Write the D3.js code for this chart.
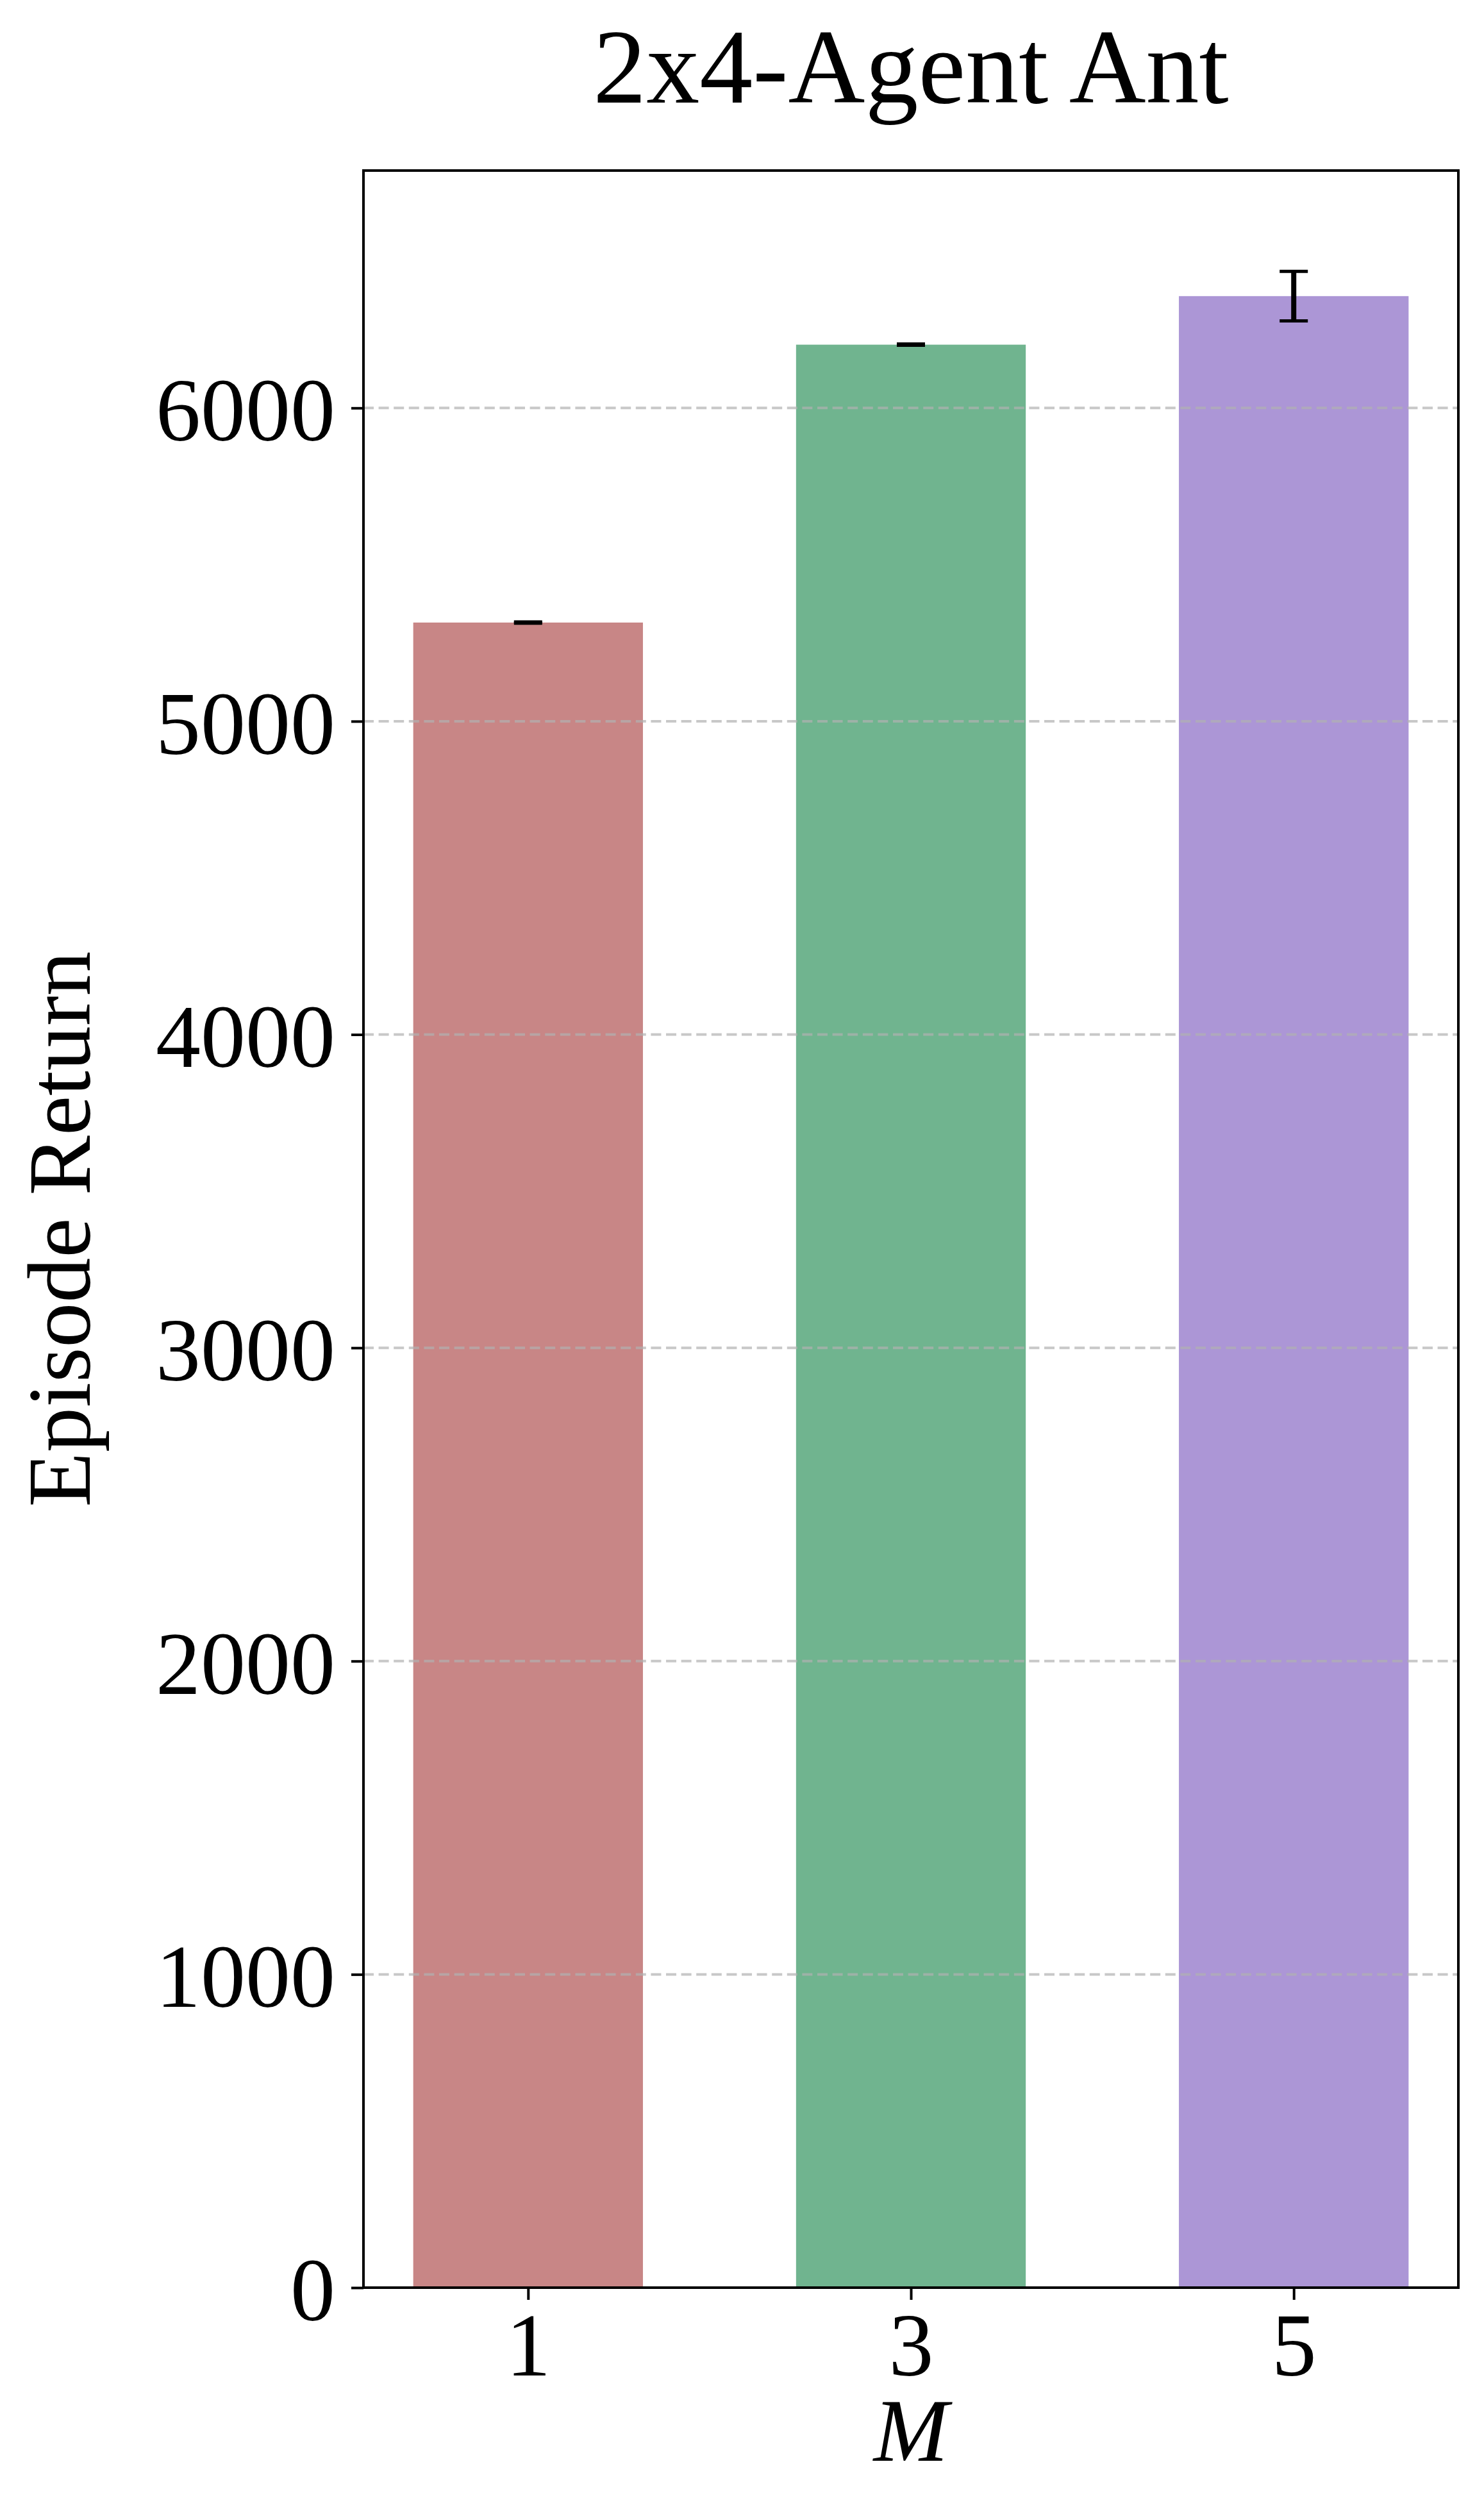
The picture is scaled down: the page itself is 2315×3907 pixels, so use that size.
<!DOCTYPE html>
<html>
<head>
<meta charset="utf-8">
<script src="https://cdn.jsdelivr.net/npm/d3@7"></script>
<style>
  body { margin: 0; background: #fff; }
  svg { display: block; }
</style>
</head>
<body>
<svg width="2315" height="3907"></svg>
<script>
// chart data
var categories = ["1", "3", "5"];
var values = [5315, 6202, 6357];
var errors = [2, 2, 79];
var colors = ["#c88686", "#70b48f", "#ac96d6"];
var yTicks = [0, 1000, 2000, 3000, 4000, 5000, 6000];

var svg = d3.select("svg"),
    margin = {top: 266, right: 40, bottom: 339, left: 567},
    width = +svg.attr("width") - margin.left - margin.right,
    height = +svg.attr("height") - margin.top - margin.bottom,
    g = svg.append("g").attr("transform", "translate(" + margin.left + "," + margin.top + ")");

var font = "'Liberation Serif', 'Times New Roman', serif";
var barW = 0.6;

// x is positional like matplotlib, with 5% margins round the bars
var lo = -barW / 2, hi = categories.length - 1 + barW / 2, pad = (hi - lo) * 0.05;
var x = d3.scaleLinear()
    .domain([lo - pad, hi + pad])
    .range([0, width]);

var yMax = d3.max(values, function(d, i) { return d + errors[i]; }) * 1.05;
var y = d3.scaleLinear()
    .domain([0, yMax])
    .range([height, 0]);

// bars
g.selectAll("rect.bar")
  .data(values)
  .enter().append("rect")
    .attr("class", "bar")
    .attr("x", function(d, i) { return x(i - barW / 2); })
    .attr("width", function() { return x(barW) - x(0); })
    .attr("y", function(d) { return y(d); })
    .attr("height", function(d) { return y(0) - y(d); })
    .attr("fill", function(d, i) { return colors[i]; });

// dashed grid lines, drawn above the bars
g.append("g")
  .selectAll("line")
  .data(yTicks.slice(1))
  .enter().append("line")
    .attr("x1", 0)
    .attr("x2", width)
    .attr("y1", function(d) { return y(d); })
    .attr("y2", function(d) { return y(d); })
    .attr("stroke", "#b0b0b0")
    .attr("stroke-opacity", 0.7)
    .attr("stroke-width", 4)
    .attr("stroke-dasharray", "16 7.6");

// error bars
var eb = g.append("g").selectAll("g")
  .data(values)
  .enter().append("g");

eb.append("line")
    .attr("x1", function(d, i) { return x(i); })
    .attr("x2", function(d, i) { return x(i); })
    .attr("y1", function(d, i) { return y(d - errors[i]); })
    .attr("y2", function(d, i) { return y(d + errors[i]); })
    .attr("stroke", "#000")
    .attr("stroke-width", 8);

[-1, 1].forEach(function(s) {
  eb.append("line")
      .attr("x1", function(d, i) { return x(i) - 22; })
      .attr("x2", function(d, i) { return x(i) + 22; })
      .attr("y1", function(d, i) { return y(d + s * errors[i]); })
      .attr("y2", function(d, i) { return y(d + s * errors[i]); })
      .attr("stroke", "#000")
      .attr("stroke-width", 5);
});

// axes
var yAxis = g.append("g")
    .call(d3.axisLeft(y).tickValues(yTicks).tickSize(19).tickPadding(25).tickFormat(d3.format("d")));

var xAxis = g.append("g")
    .attr("transform", "translate(0," + height + ")")
    .call(d3.axisBottom(x).tickValues(d3.range(categories.length)).tickSize(19)
      .tickFormat(function(d) { return categories[d]; }));

[yAxis, xAxis].forEach(function(a) {
  a.select(".domain").remove();
  a.selectAll(".tick line").attr("stroke", "#000").attr("stroke-width", 4);
  a.selectAll("text")
      .attr("font-family", font)
      .attr("font-size", 140)
      .attr("fill", "#000");
});
yAxis.selectAll("text").attr("dy", "0.36em");
xAxis.selectAll("text").attr("y", 137).attr("dy", 0);

// frame
g.append("rect")
    .attr("width", width)
    .attr("height", height)
    .attr("fill", "none")
    .attr("stroke", "#000")
    .attr("stroke-width", 4);

// title and axis titles
svg.append("text")
    .attr("x", margin.left + width / 2)
    .attr("y", 160)
    .attr("text-anchor", "middle")
    .attr("font-family", font)
    .attr("font-size", 166)
    .text("2x4-Agent Ant");

svg.append("text")
    .attr("x", margin.left + width / 2)
    .attr("y", 3838)
    .attr("text-anchor", "middle")
    .attr("font-family", font)
    .attr("font-style", "italic")
    .attr("font-size", 140)
    .text("M");

svg.append("text")
    .attr("transform", "translate(140," + (margin.top + height / 2) + ") rotate(-90)")
    .attr("text-anchor", "middle")
    .attr("font-family", font)
    .attr("font-size", 140)
    .text("Episode Return");
</script>
</body>
</html>
